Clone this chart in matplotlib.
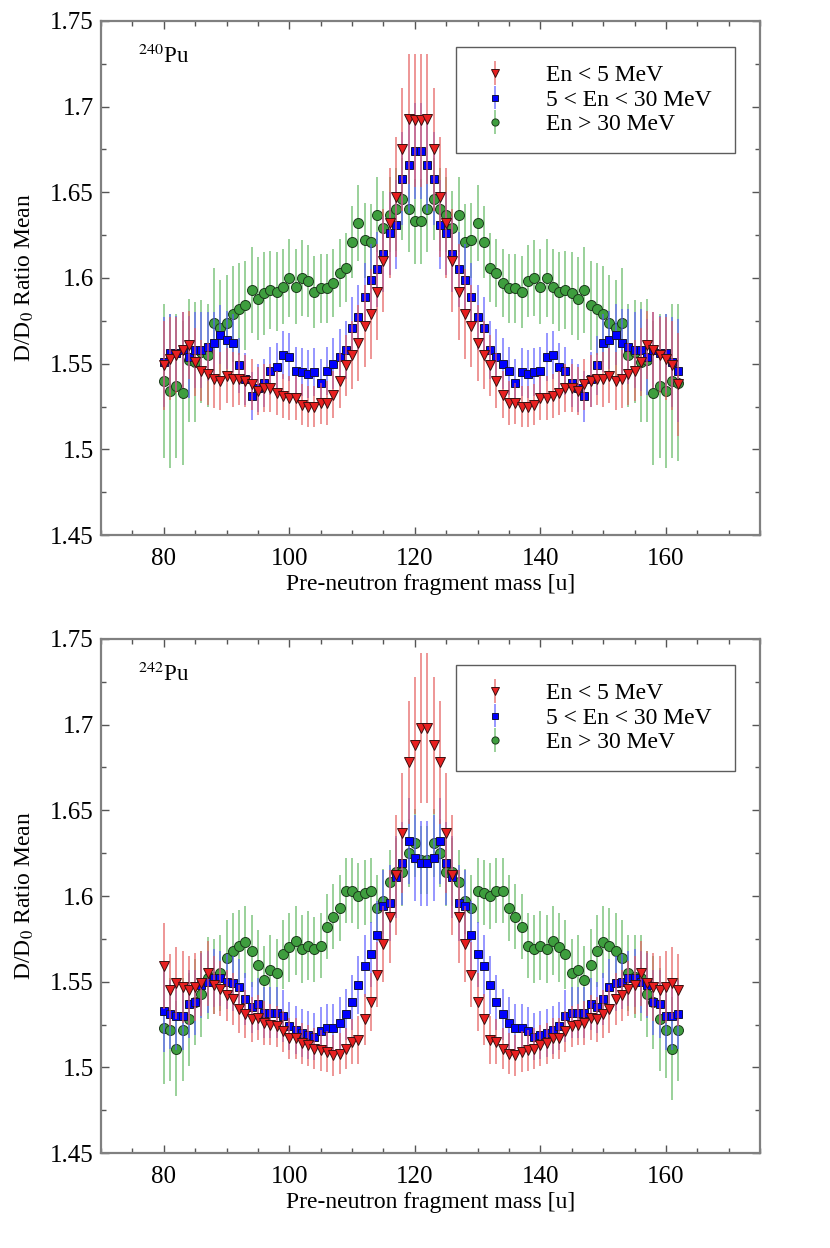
import matplotlib
matplotlib.use("Agg")
import matplotlib.pyplot as plt
from matplotlib.ticker import MultipleLocator

plt.rcParams['font.family'] = ['Liberation Serif', 'DejaVu Serif']
plt.rcParams['mathtext.fontset'] = 'stix'

mass = list(range(80, 163))

# 240Pu
pu240_low = [1.549, 1.553, 1.555, 1.558, 1.561, 1.551, 1.546, 1.544, 1.541, 1.540,
             1.543, 1.541, 1.541, 1.540, 1.538, 1.534, 1.536, 1.536, 1.533, 1.531,
             1.530, 1.530, 1.526, 1.525, 1.525, 1.527, 1.527, 1.532, 1.540, 1.549,
             1.555, 1.562, 1.572, 1.579, 1.592, 1.610, 1.632, 1.647, 1.675, 1.693,
             1.692, 1.692, 1.693, 1.675, 1.647, 1.632, 1.610, 1.592, 1.579, 1.572,
             1.562, 1.555, 1.549, 1.540, 1.532, 1.527, 1.527, 1.525, 1.525, 1.526,
             1.530, 1.530, 1.531, 1.533, 1.536, 1.536, 1.534, 1.538, 1.540, 1.541,
             1.541, 1.543, 1.540, 1.541, 1.544, 1.546, 1.551, 1.561, 1.558, 1.555,
             1.553, 1.549, 1.538]
pu240_mid = [1.551, 1.556, 1.556, 1.558, 1.554, 1.558, 1.558, 1.560, 1.562, 1.567,
             1.564, 1.562, 1.549, 1.541, 1.531, 1.536, 1.539, 1.546, 1.548, 1.555,
             1.554, 1.546, 1.545, 1.544, 1.545, 1.539, 1.546, 1.550, 1.554, 1.558,
             1.571, 1.577, 1.589, 1.599, 1.605, 1.614, 1.626, 1.631, 1.658, 1.666,
             1.674, 1.674, 1.666, 1.658, 1.631, 1.626, 1.614, 1.605, 1.599, 1.589,
             1.577, 1.571, 1.558, 1.554, 1.550, 1.546, 1.539, 1.545, 1.544, 1.545,
             1.546, 1.554, 1.555, 1.548, 1.546, 1.539, 1.536, 1.531, 1.541, 1.549,
             1.562, 1.564, 1.567, 1.562, 1.560, 1.558, 1.558, 1.554, 1.558, 1.556,
             1.556, 1.551, 1.546]
pu240_high = [1.540, 1.534, 1.537, 1.533, 1.552, 1.551, 1.557, 1.555, 1.574, 1.571,
              1.574, 1.579, 1.582, 1.584, 1.593, 1.588, 1.591, 1.593, 1.592, 1.595,
              1.600, 1.595, 1.600, 1.598, 1.592, 1.594, 1.594, 1.597, 1.603, 1.606,
              1.621, 1.632, 1.622, 1.621, 1.637, 1.629, 1.637, 1.640, 1.646, 1.640,
              1.633, 1.633, 1.640, 1.646, 1.640, 1.637, 1.629, 1.637, 1.621, 1.622,
              1.632, 1.621, 1.606, 1.603, 1.597, 1.594, 1.594, 1.592, 1.598, 1.600,
              1.595, 1.600, 1.595, 1.592, 1.593, 1.591, 1.588, 1.593, 1.584, 1.582,
              1.579, 1.574, 1.571, 1.574, 1.555, 1.557, 1.551, 1.552, 1.533, 1.537,
              1.534, 1.540, 1.539]
pu240_low_err = [.026, .024, .022, .022, .020, .020, .018, .018, .017, .017,
                 .016, .016, .015, .015, .015, .014, .014, .014, .013, .013,
                 .013, .013, .012, .012, .012, .012, .013, .014, .016, .018,
                 .020, .022, .024, .026, .028, .030, .032, .035, .036, .038,
                 .039, .039, .038, .036, .035, .032, .030, .028, .026, .024,
                 .022, .020, .018, .016, .014, .013, .012, .012, .012, .012,
                 .013, .013, .013, .013, .014, .014, .014, .015, .015, .015,
                 .016, .016, .017, .017, .018, .018, .020, .020, .022, .022,
                 .024, .026, .030]
pu240_mid_err = [.026, .023, .022, .022, .024, .022, .022, .020, .018, .017,
                 .017, .017, .016, .015, .014, .014, .014, .014, .014, .014,
                 .014, .014, .014, .014, .014, .014, .014, .015, .016, .017,
                 .018, .019, .020, .021, .022, .022, .024, .026, .027, .028,
                 .028, .028, .028, .027, .026, .024, .022, .022, .021, .020,
                 .019, .018, .017, .016, .015, .014, .014, .014, .014, .014,
                 .014, .014, .014, .014, .014, .014, .014, .015, .016, .017,
                 .017, .017, .018, .020, .022, .022, .024, .022, .022, .022,
                 .023, .026, .030]
pu240_high_err = [.045, .045, .042, .042, .036, .035, .030, .030, .032, .028,
                  .028, .028, .027, .026, .025, .024, .024, .023, .023, .022,
                  .023, .022, .022, .021, .021, .020, .020, .020, .020, .020,
                  .021, .022, .022, .022, .022, .022, .022, .024, .024, .025,
                  .025, .025, .025, .024, .024, .022, .022, .022, .022, .022,
                  .022, .021, .020, .020, .020, .020, .020, .021, .021, .022,
                  .022, .023, .022, .023, .023, .024, .024, .025, .026, .027,
                  .028, .028, .028, .032, .030, .030, .035, .036, .042, .042,
                  .045, .045, .046]

# 242Pu
pu242_low = [1.559, 1.545, 1.549, 1.547, 1.545, 1.547, 1.549, 1.555, 1.548, 1.546,
             1.542, 1.540, 1.534, 1.531, 1.528, 1.529, 1.526, 1.525, 1.524, 1.521,
             1.517, 1.517, 1.514, 1.513, 1.511, 1.510, 1.509, 1.507, 1.508, 1.511,
             1.515, 1.516, 1.528, 1.538, 1.554, 1.572, 1.588, 1.612, 1.637, 1.678,
             1.688, 1.698, 1.698, 1.688, 1.678, 1.637, 1.612, 1.588, 1.572, 1.554,
             1.538, 1.528, 1.516, 1.515, 1.511, 1.508, 1.507, 1.509, 1.510, 1.511,
             1.513, 1.514, 1.517, 1.517, 1.521, 1.524, 1.525, 1.526, 1.529, 1.528,
             1.531, 1.534, 1.540, 1.542, 1.546, 1.548, 1.555, 1.549, 1.547, 1.545,
             1.547, 1.549, 1.545]
pu242_mid = [1.533, 1.531, 1.530, 1.530, 1.537, 1.538, 1.548, 1.550, 1.552, 1.552,
             1.550, 1.549, 1.547, 1.540, 1.535, 1.537, 1.532, 1.532, 1.532, 1.530,
             1.524, 1.522, 1.520, 1.519, 1.518, 1.521, 1.523, 1.523, 1.526, 1.531,
             1.538, 1.548, 1.559, 1.566, 1.577, 1.594, 1.596, 1.611, 1.619, 1.632,
             1.622, 1.619, 1.619, 1.622, 1.632, 1.619, 1.611, 1.596, 1.594, 1.577,
             1.566, 1.559, 1.548, 1.538, 1.531, 1.526, 1.523, 1.523, 1.521, 1.518,
             1.519, 1.520, 1.522, 1.524, 1.530, 1.532, 1.532, 1.532, 1.537, 1.535,
             1.540, 1.547, 1.549, 1.550, 1.552, 1.552, 1.550, 1.548, 1.538, 1.537,
             1.530, 1.530, 1.531]
pu242_high = [1.523, 1.522, 1.511, 1.522, 1.528, 1.538, 1.543, 1.552, 1.553, 1.555,
              1.564, 1.568, 1.571, 1.573, 1.568, 1.560, 1.551, 1.557, 1.555, 1.566,
              1.570, 1.574, 1.569, 1.571, 1.569, 1.571, 1.582, 1.588, 1.593, 1.603,
              1.603, 1.600, 1.602, 1.603, 1.593, 1.597, 1.608, 1.614, 1.614, 1.625,
              1.631, 1.621, 1.621, 1.631, 1.625, 1.614, 1.614, 1.608, 1.597, 1.593,
              1.603, 1.602, 1.600, 1.603, 1.603, 1.593, 1.588, 1.582, 1.571, 1.569,
              1.571, 1.569, 1.574, 1.570, 1.566, 1.555, 1.557, 1.551, 1.560, 1.568,
              1.573, 1.571, 1.568, 1.564, 1.555, 1.553, 1.552, 1.543, 1.538, 1.528,
              1.522, 1.511, 1.522]
pu242_low_err = [.025, .021, .021, .021, .020, .020, .019, .019, .017, .016,
                 .015, .015, .014, .014, .013, .013, .013, .012, .012, .012,
                 .012, .012, .012, .012, .012, .012, .012, .012, .012, .012,
                 .013, .014, .015, .017, .019, .022, .027, .035, .035, .036,
                 .040, .044, .044, .040, .036, .035, .035, .027, .022, .019,
                 .017, .015, .014, .013, .012, .012, .012, .012, .012, .012,
                 .012, .012, .012, .012, .012, .012, .012, .013, .013, .013,
                 .014, .014, .015, .015, .016, .017, .019, .019, .020, .020,
                 .021, .021, .021]
pu242_mid_err = [.024, .020, .020, .020, .020, .019, .019, .018, .017, .016,
                 .016, .016, .016, .015, .015, .015, .015, .015, .015, .015,
                 .014, .014, .014, .014, .014, .014, .014, .014, .015, .015,
                 .016, .017, .018, .019, .020, .021, .022, .024, .024, .025,
                 .025, .025, .025, .025, .025, .024, .024, .022, .021, .020,
                 .019, .018, .017, .016, .015, .015, .014, .014, .014, .014,
                 .014, .014, .014, .014, .015, .015, .015, .015, .015, .015,
                 .015, .016, .016, .016, .016, .017, .018, .019, .019, .020,
                 .020, .020, .020]
pu242_high_err = [.033, .030, .028, .030, .027, .025, .025, .024, .022, .022,
                  .022, .022, .021, .021, .021, .020, .020, .020, .020, .020,
                  .020, .020, .020, .020, .019, .019, .019, .019, .019, .019,
                  .019, .019, .019, .019, .019, .019, .019, .020, .020, .020,
                  .020, .020, .020, .020, .020, .020, .020, .019, .019, .019,
                  .019, .019, .019, .019, .019, .019, .019, .019, .019, .020,
                  .020, .020, .020, .020, .020, .020, .020, .020, .021, .021,
                  .021, .022, .022, .022, .022, .024, .025, .025, .027, .030,
                  .028, .030, .030]

labels = ["En < 5 MeV ", "5 < En < 30 MeV ", "En > 30 MeV "]


def panel(ax, low, mid, high, elow, emid, ehigh, nucleus):
    h3 = ax.errorbar(mass, high, yerr=ehigh, fmt='o', ms=7.2, mfc='#3e9e3e',
                     mec='#1c3a1c', mew=0.7, ecolor='#62b862', elinewidth=1.2,
                     capsize=0, zorder=2)
    h2 = ax.errorbar(mass, mid, yerr=emid, fmt='s', ms=6.0, mfc='#0000ff',
                     mec='#14143c', mew=0.7, ecolor='#5c5cff', elinewidth=1.2,
                     capsize=0, zorder=3)
    h1 = ax.errorbar(mass, low, yerr=elow, fmt='v', ms=7.4, mfc='#e82020',
                     mec='#3c1010', mew=0.7, ecolor='#e45c5c', elinewidth=1.2,
                     capsize=0, zorder=4)
    for h in (h1, h2, h3):
        for lc in h[2]:
            lc.set_alpha(0.75)

    ax.set_xlim(70, 175)
    ax.set_ylim(1.45, 1.75)
    ax.xaxis.set_major_locator(MultipleLocator(20))
    ax.xaxis.set_minor_locator(MultipleLocator(5))
    ax.yaxis.set_minor_locator(MultipleLocator(0.025))
    ax.set_yticks([1.45, 1.5, 1.55, 1.6, 1.65, 1.7, 1.75])
    ax.set_yticklabels(["1.45", "1.5", "1.55", "1.6", "1.65", "1.7", "1.75"])
    ax.tick_params(which='both', direction='in', top=True, right=True,
                   labelsize=18, color='#555555')
    ax.tick_params(axis='x', pad=9)
    ax.tick_params(axis='y', pad=5)
    ax.tick_params(which='major', length=6, width=1)
    ax.tick_params(which='minor', length=3.5, width=1)
    for s in ax.spines.values():
        s.set_color('#808080')
        s.set_linewidth(1.6)

    ax.set_xlabel("Pre-neutron fragment mass [u]", fontsize=17, labelpad=3)
    ax.set_ylabel(r"D/D$_0$ Ratio Mean", fontsize=17, labelpad=10)
    ax.text(0.056, 0.918, r"$^{" + nucleus + r"}$Pu", transform=ax.transAxes,
            fontsize=16.5)

    leg = ax.legend([h1, h2, h3], labels, loc='upper right',
                    bbox_to_anchor=(0.962, 0.949), borderaxespad=0,
                    fontsize=17, frameon=True, fancybox=False,
                    handlelength=1.75, handletextpad=1.3, borderpad=0.75,
                    labelspacing=0.12, markerscale=0.72)
    leg.get_frame().set_edgecolor('#333333')
    leg.get_frame().set_linewidth(1.0)


fig = plt.figure(figsize=(8.3, 12.48), dpi=100)
ax1 = fig.add_axes([0.1217, 0.5713, 0.794, 0.4119])
ax2 = fig.add_axes([0.1217, 0.0761, 0.794, 0.4119])

panel(ax1, pu240_low, pu240_mid, pu240_high,
      pu240_low_err, pu240_mid_err, pu240_high_err, "240")
panel(ax2, pu242_low, pu242_mid, pu242_high,
      pu242_low_err, pu242_mid_err, pu242_high_err, "242")

fig.savefig("out.png", dpi=100)
